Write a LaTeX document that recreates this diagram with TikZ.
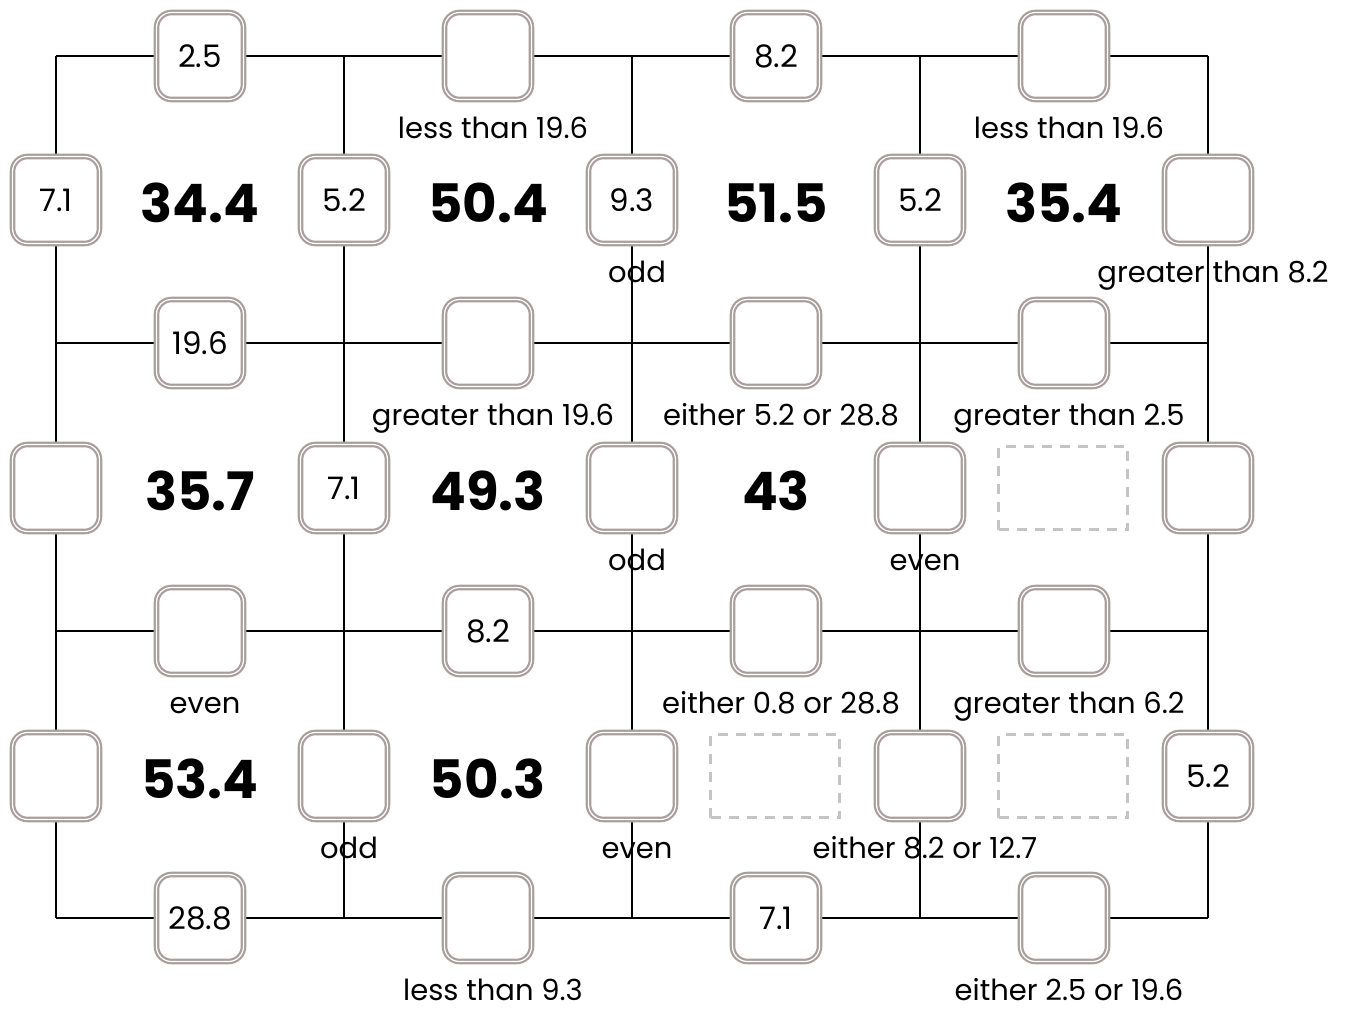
\documentclass[tikz,border=0pt]{standalone}
\usepackage{fontspec}
\setmainfont{Poppins}
\usetikzlibrary{positioning}
\definecolor{SlotEdge}{HTML}{A89E9C}
\definecolor{BlankEdge}{HTML}{C4C4C4}

\begin{document}
\begin{tikzpicture}[x=1pt, y=-1pt]
\tikzset{
  gridline/.style={black, line width=2.5pt},
  slot/.style={draw=SlotEdge, double=white, double distance=1.2pt, line width=2.2pt,
    fill=white, rounded corners=15pt, minimum size=87pt, inner sep=0pt,
    font=\fontsize{31}{33}\selectfont},
  blank/.style={draw=BlankEdge, dash pattern=on 10pt off 8pt, line width=2.2pt,
    minimum width=129pt, minimum height=83pt, inner sep=0pt},
  total/.style={font=\fontsize{53}{60}\selectfont\bfseries},
  hint/.style={font=\fontsize{29}{32}\selectfont, inner sep=0pt, anchor=base},
}
  \useasboundingbox (0,0) rectangle (1355,1009);

  % Grid corners
  \foreach \c [count=\i from 0] in {56,344,632,920,1208}
    \foreach \r [count=\j from 0] in {56,343,631,918}
      \coordinate (p\i\j) at (\c,\r);

  % Grid lines
  \foreach \j in {0,...,3}
    \draw[gridline] (p0\j) -- (p4\j);
  \foreach \i in {0,...,4}
    \draw[gridline] (p\i0) -- (p\i3);

  % Slots on horizontal edges
  \foreach \v [count=\i from 0] in {2.5,{},8.2,{}}
    \node[slot] (h\i0) at (200+288*\i,56) {\v};
  \foreach \v [count=\i from 0] in {19.6,{},{},{}}
    \node[slot] (h\i1) at (200+288*\i,343) {\v};
  \foreach \v [count=\i from 0] in {{},8.2,{},{}}
    \node[slot] (h\i2) at (200+288*\i,631) {\v};
  \foreach \v [count=\i from 0] in {28.8,{},7.1,{}}
    \node[slot] (h\i3) at (200+288*\i,918) {\v};

  % Slots on vertical edges
  \foreach \v [count=\i from 0] in {7.1,5.2,9.3,5.2,{}}
    \node[slot] (v\i0) at (56+288*\i,200) {\v};
  \foreach \v [count=\i from 0] in {{},7.1,{},{},{}}
    \node[slot] (v\i1) at (56+288*\i,488) {\v};
  \foreach \v [count=\i from 0] in {{},{},{},{},5.2}
    \node[slot] (v\i2) at (56+288*\i,776) {\v};

  % Cell totals
  \foreach \v [count=\i from 0] in {34.4,50.4,51.5,35.4}
    \node[total] (c\i0) at (200+288*\i,203) {\v};
  \foreach \v [count=\i from 0] in {35.7,49.3,43}
    \node[total] (c\i1) at (200+288*\i,491) {\v};
  \foreach \v [count=\i from 0] in {53.4,50.3}
    \node[total] (c\i2) at (200+288*\i,779) {\v};

  % Missing totals
  \node[blank] (m31) at (1063,488) {};
  \node[blank] (m22) at (775,776) {};
  \node[blank] (m32) at (1063,776) {};

  % Clues under the slots
  \foreach \b/\t in {h10/less than 19.6, h30/less than 19.6,
      v20/odd, v40/greater than 8.2,
      h11/greater than 19.6, h21/either 5.2 or 28.8, h31/greater than 2.5,
      v21/odd, v31/even,
      h02/even, h22/either 0.8 or 28.8, h32/greater than 6.2,
      v12/odd, v22/even, v32/either 8.2 or 12.7,
      h13/less than 9.3, h33/either 2.5 or 19.6}
    \node[hint] (l-\b) at ([shift={(5,82)}]\b.center) {\t};
\end{tikzpicture}
\end{document}
